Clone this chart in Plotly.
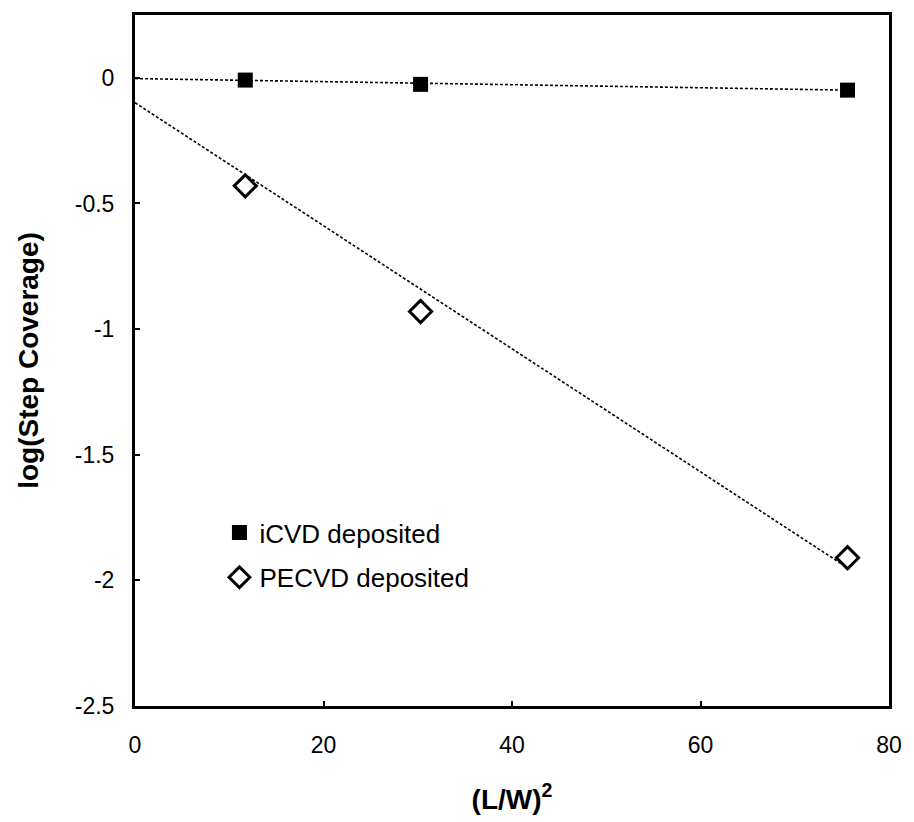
import plotly.graph_objects as go

# Measured step coverage in trenches of different aspect ratio
aspect_sq = [11.7, 30.3, 75.6]          # (L/W)^2
icvd_log_sc = [-0.009, -0.026, -0.049]  # iCVD deposited
pecvd_log_sc = [-0.43, -0.93, -1.91]    # PECVD deposited

# Linear trend lines (endpoints of the fitted lines)
fit_x = [0, 75.6]
icvd_fit = [-0.003, -0.049]
pecvd_fit = [-0.099, -1.95]

y_tick_vals = [0, -0.5, -1, -1.5, -2, -2.5]
y_tick_text = ["0", "-0.5", "-1", "-1.5", "-2", "-2.5"]
x_tick_vals = [0, 20, 40, 60, 80]
x_tick_text = ["0", "20", "40", "60", "80"]

FONT = "Liberation Sans, Arial, sans-serif"

fig = go.Figure()

fig.add_trace(go.Scatter(
    x=fit_x, y=icvd_fit, mode="lines",
    line=dict(color="black", width=1.6, dash="3px,2px"),
    showlegend=False, hoverinfo="skip"))
fig.add_trace(go.Scatter(
    x=fit_x, y=pecvd_fit, mode="lines",
    line=dict(color="black", width=1.6, dash="3px,2px"),
    showlegend=False, hoverinfo="skip"))

fig.add_trace(go.Scatter(
    x=aspect_sq, y=icvd_log_sc, mode="markers", name="iCVD deposited",
    legendgroup="a",
    marker=dict(symbol="square", size=15, color="black",
                line=dict(color="black", width=0))))
fig.add_trace(go.Scatter(
    x=aspect_sq, y=pecvd_log_sc, mode="markers", name="PECVD deposited",
    legendgroup="b",
    marker=dict(symbol="diamond-open", size=17, color="black",
                line=dict(color="black", width=3))))

axis_common = dict(
    showgrid=False, zeroline=False, showline=True, linecolor="black",
    linewidth=3, mirror=True, ticks="inside", ticklen=5, tickwidth=1.5,
    tickcolor="black", tickfont=dict(family=FONT, size=23, color="black"),
)

fig.update_xaxes(
    range=[0, 80], tickmode="array", tickvals=x_tick_vals,
    ticktext=x_tick_text, ticklabelstandoff=16,
    title=dict(text="<b>(L/W)<sup>2</sup></b>", standoff=33,
               font=dict(family=FONT, size=28, color="black")),
    **axis_common)
fig.update_yaxes(
    range=[-2.5, 0.25], tickmode="array", tickvals=y_tick_vals,
    ticktext=y_tick_text, ticklabelstandoff=13,
    title=dict(text="<b>log(Step Coverage)</b>", standoff=28,
               font=dict(family=FONT, size=28, color="black")),
    **axis_common)

fig.update_layout(
    width=914, height=822,
    margin=dict(l=135, r=20, t=12, b=115),
    paper_bgcolor="white", plot_bgcolor="white",
    font=dict(family=FONT, color="black"),
    legend=dict(x=0.112, y=0.285, xanchor="left", yanchor="top",
                bgcolor="rgba(0,0,0,0)", tracegroupgap=8,
                traceorder="grouped",
                font=dict(family=FONT, size=26, color="black")),
)

fig.write_html("out.html")
